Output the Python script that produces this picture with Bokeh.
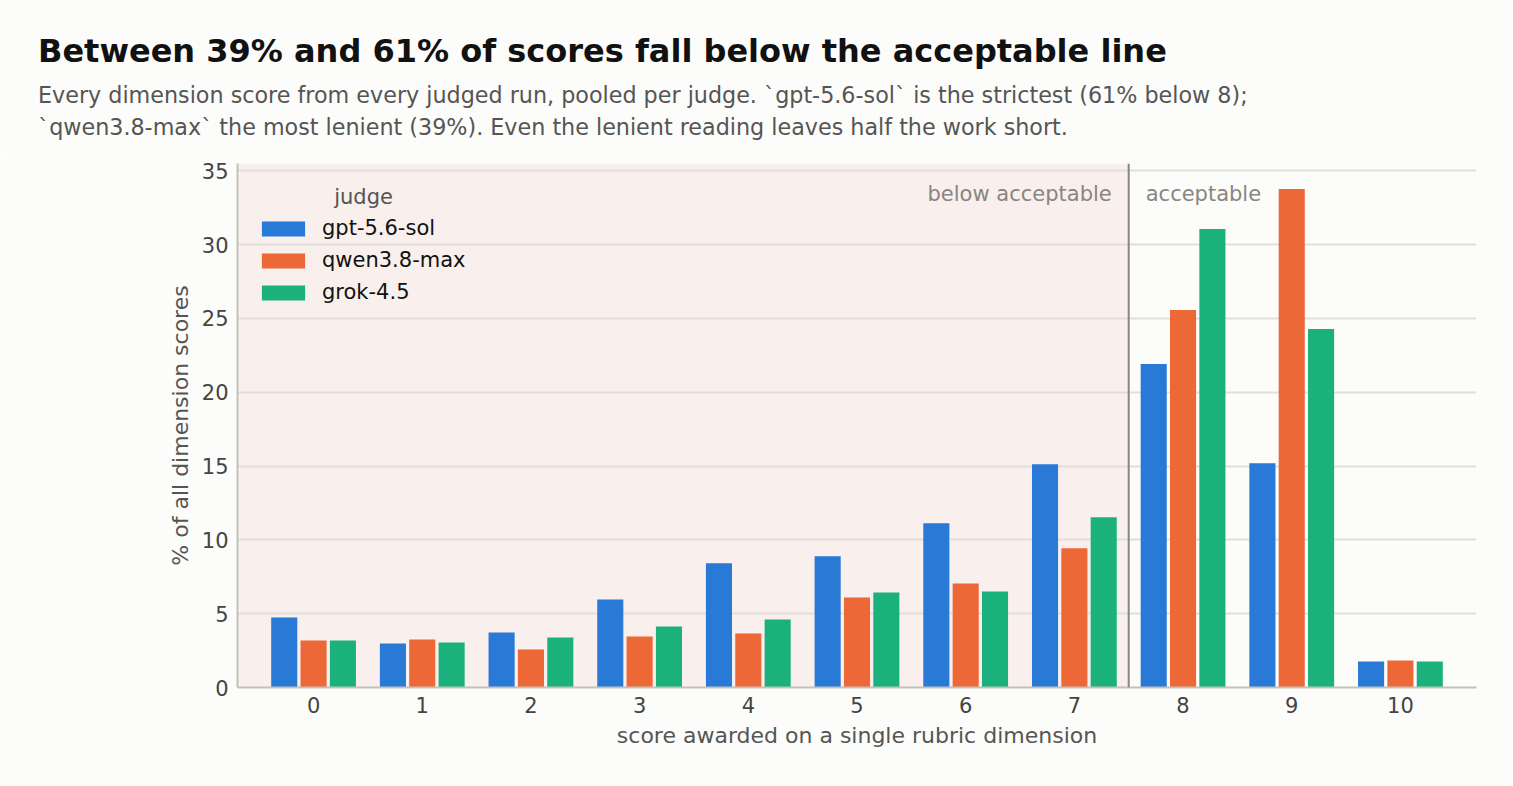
from bokeh.plotting import figure
from bokeh.layouts import column
from bokeh.models import (BoxAnnotation, Span, Label, Legend, LegendItem, Div,
                          FixedTicker, ColumnDataSource, Range1d)
from bokeh.transform import dodge
from bokeh.embed import file_html
from bokeh.resources import INLINE

# data (% of all dimension scores per judge)
scores = list(range(11))
judges = ["gpt-5.6-sol", "qwen3.8-max", "grok-4.5"]
gpt_pct = [4.75, 2.98, 3.73, 5.97, 8.41, 8.89, 11.12, 15.13, 21.91, 15.19, 1.76]
qwen_pct = [3.19, 3.26, 2.58, 3.46, 3.66, 6.10, 7.05, 9.43, 25.57, 33.78, 1.83]
grok_pct = [3.19, 3.05, 3.39, 4.14, 4.61, 6.44, 6.51, 11.53, 31.07, 24.28, 1.76]
threshold = 7.5
x_lo, x_hi, y_hi = -0.7, 10.7, 35.5

colors = ["#2979d6", "#ec6836", "#1bb17c"]
bg = "#fcfcfa"
font = "DejaVu Sans"

head = "Between 39% and 61% of scores fall below the acceptable line"
sub1 = ("Every dimension score from every judged run, pooled per judge. "
        "`gpt-5.6-sol` is the strictest (61% below 8);")
sub2 = "`qwen3.8-max` the most lenient (39%). Even the lenient reading leaves half the work short."

source = ColumnDataSource(dict(score=scores, gpt=gpt_pct, qwen=qwen_pct, grok=grok_pct))

# header block (title + two subtitle lines)
header = Div(
    text=(f'<div style="padding:31px 0 0 38px; font-family:\'DejaVu Sans\'; white-space:nowrap;">'
          f'<div style="font-size:32px; font-weight:bold; line-height:40px; color:#111111;">{head}</div>'
          f'<div style="margin-top:8px; font-size:22.25px; line-height:32px; color:#555555;">{sub1}<br>{sub2}</div>'
          f'</div>'),
    width=1513, height=155, margin=0,
    styles={"background-color": bg})

p = figure(width=1513, height=631, output_backend="svg", toolbar_location=None,
           title=None, x_range=Range1d(x_lo, x_hi), y_range=Range1d(0, y_hi),
           min_border_left=237, min_border_right=37, min_border_bottom=99,
           min_border_top=8, margin=0)
p.background_fill_color = bg
p.border_fill_color = bg
p.outline_line_color = None

# shaded "below acceptable" zone, drawn under the grid
p.add_layout(BoxAnnotation(left=x_lo, right=threshold, fill_color="#f9efec",
                           fill_alpha=1.0, line_color=None, level="image"))

renderers = []
for col, off, c in zip(["gpt", "qwen", "grok"], [-0.27, 0.0, 0.27], colors):
    r = p.vbar(x=dodge("score", off, range=p.x_range), top=col, width=0.24,
               source=source, fill_color=c, line_color=None)
    renderers.append(r)

p.add_layout(Span(location=threshold, dimension="height", line_color="#8a8680",
                  line_width=2))

p.add_layout(Label(x=threshold, y=33.45, x_offset=-17, text="below acceptable",
                   text_align="right", text_baseline="middle", text_font=font,
                   text_font_size="21px", text_color="#8a8580"))
p.add_layout(Label(x=threshold, y=33.45, x_offset=17, text="acceptable",
                   text_align="left", text_baseline="middle", text_font=font,
                   text_font_size="21px", text_color="#8a8580"))

# legend heading
p.add_layout(Label(x=0.46, y=33.24, text="judge", text_align="center",
                   text_baseline="middle", text_font=font, text_font_size="21px",
                   text_color="#555555"))

legend = Legend(items=[LegendItem(label=j, renderers=[r]) for j, r in zip(judges, renderers)],
                location=(19, 383), glyph_width=54, glyph_height=19,
                label_height=20, spacing=8, label_standoff=12, padding=10,
                label_text_font=font, label_text_font_size="21px",
                label_text_color="#111111", background_fill_alpha=0,
                border_line_color=None)
p.add_layout(legend)

# axes
p.xaxis.ticker = FixedTicker(ticks=scores)
p.yaxis.ticker = FixedTicker(ticks=[0, 5, 10, 15, 20, 25, 30, 35])
p.xaxis.axis_label = "score awarded on a single rubric dimension"
p.yaxis.axis_label = "% of all dimension scores"
for ax in [p.xaxis, p.yaxis]:
    ax.axis_line_color = "#c4c1b8"
    ax.axis_line_width = 2
    ax.major_tick_line_color = None
    ax.minor_tick_line_color = None
    ax.major_label_text_font = font
    ax.major_label_text_font_size = "21px"
    ax.major_label_text_color = "#444444"
    ax.axis_label_text_font = font
    ax.axis_label_text_font_size = "22px"
    ax.axis_label_text_font_style = "normal"
    ax.axis_label_text_color = "#555555"
p.xaxis.major_label_standoff = 3
p.xaxis.axis_label_standoff = 7
p.yaxis.major_label_standoff = 3
p.yaxis.axis_label_standoff = 6

p.xgrid.grid_line_color = None
p.ygrid.grid_line_color = "#e2dfda"
p.ygrid.grid_line_width = 2

layout = column(header, p, spacing=0, margin=0)
open("out.html", "w").write(file_html(layout, INLINE))
